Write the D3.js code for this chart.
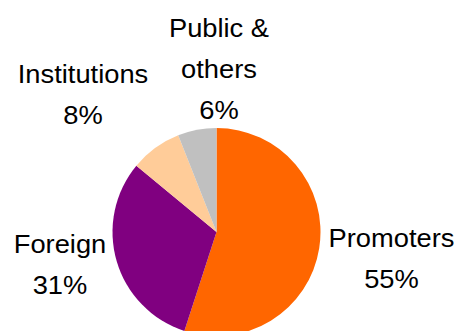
<!DOCTYPE html>
<html>
<head>
<meta charset="utf-8">
<script src="https://cdn.jsdelivr.net/npm/d3@7"></script>
<style>
  body { margin: 0; background: #fff; }
  svg text { font-family: "Liberation Sans", Arial, sans-serif; fill: #000; }
</style>
</head>
<body>
<div class="pie-chart"></div>
<script>
var width = 460;
var height = 331;

// shareholding data
var categories = ["Promoters", "Foreign", "Institutions", "Public & others"];
var shares = [55, 31, 8, 6];
var colors = ["#FF6600", "#800080", "#FFCC99", "#C0C0C0"];
// label lines as shown in the picture
var labelLines = [["Promoters", "55%"], ["Foreign", "31%"], ["Institutions", "8%"], ["Public &", "others", "6%"]];

var center = {x: 216.5, y: 232};
var radius = 104;

var svg = d3.select(".pie-chart")
    .append("svg")
    .attr("width", width)
    .attr("height", height);

var pie = d3.pie().sort(null).value(function(d){return d;});
var arc = d3.arc().innerRadius(0).outerRadius(radius);

var data = pie(shares);

var g = svg.append("g")
    .attr("transform", `translate(${center.x},${center.y})`);

g.selectAll("path")
    .data(data)
    .enter()
    .append("path")
    .attr("d", arc)
    .attr("fill", function(d, i){return colors[i];});

// label anchor positions (center x, first baseline y), picked to match the layout
var labelPos = [[391.5, 247], [60, 253], [83, 83], [219, 37]];
var lineGap = 41;

svg.selectAll("text.lbl")
    .data(labelLines)
    .enter()
    .append("text")
    .attr("class", "lbl")
    .attr("text-anchor", "middle")
    .attr("font-size", 26.5)
    .attr("transform", function(d, i){return `translate(${labelPos[i][0]},${labelPos[i][1]}) scale(1.03,1)`;})
    .selectAll("tspan")
    .data(function(d){return d;})
    .enter()
    .append("tspan")
    .attr("x", 0)
    .attr("y", function(d, j){return j * lineGap;})
    .text(function(d){return d;});
</script>
</body>
</html>
